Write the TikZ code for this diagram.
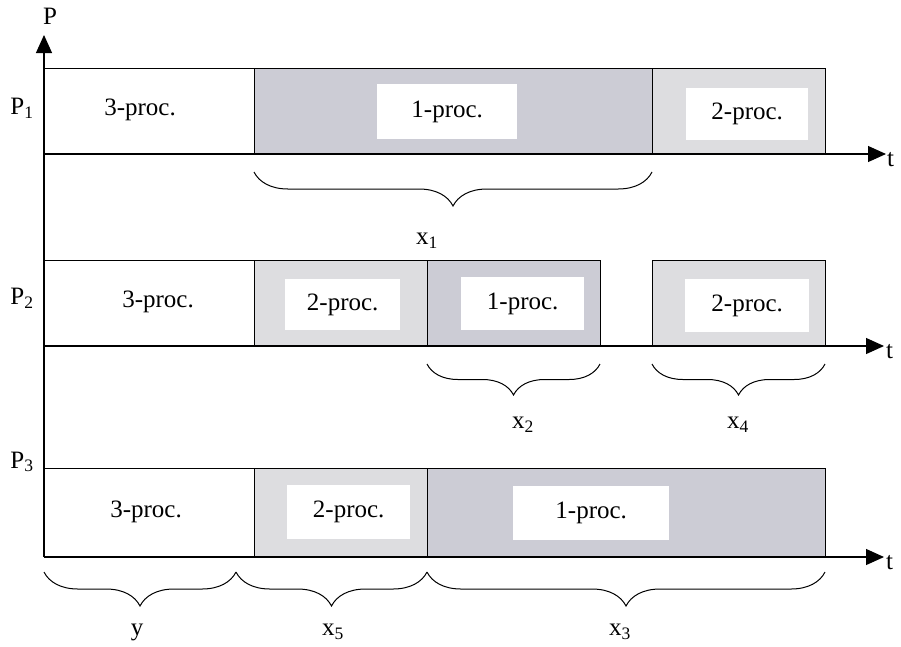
\documentclass[tikz,border=0pt]{standalone}
\usepackage{fontspec}
\setmainfont{Liberation Serif}
\usetikzlibrary{arrows.meta,decorations.pathreplacing}
\definecolor{darkfill}{RGB}{204,204,213}
\definecolor{lightfill}{RGB}{221,221,224}
\begin{document}
\begin{tikzpicture}[x=1pt,y=-1pt,
  font=\fontsize{25}{28}\selectfont,
  seg/.style={draw, line width=1.1pt, anchor=north west, inner sep=0pt, minimum height=#1},
  tip/.style={-{Triangle[length=18pt,width=16pt]}, line width=1.1pt},
  inner/.style={fill=white, inner sep=0pt, anchor=north west},
  br/.style={decorate, decoration={brace, mirror, amplitude=#1}, line width=1pt},
  lab/.style={inner sep=1pt}]
\useasboundingbox (0,0) rectangle (901,646);

% vertical axis
\coordinate (vbot) at (44,557);
\coordinate (vtop) at (44,35);
\draw[tip] (vbot) -- (vtop);
\node[lab] (Plab) at (50,16) {P};

% ---------- Row 1 ----------
\node[seg=86pt, fill=white, minimum width=210pt] (r1a) at (44,68) {};
\node[seg=86pt, fill=darkfill, minimum width=398pt] (r1b) at (254,68) {};
\node[seg=86pt, fill=lightfill, minimum width=173pt] (r1c) at (652,68) {};
\node (t1a) at (140,110) {3-proc.};
\node[inner, minimum width=140pt, minimum height=55pt] (w1b) at (377,84) {};
\node (t1b) at (w1b.center) {1-proc.};
\node[inner, minimum width=122pt, minimum height=52pt] (w1c) at (686,88) {};
\node (t1c) at (w1c.center) {2-proc.};
\coordinate (a1s) at (44,154);
\coordinate (a1e) at (886,154);
\draw[tip] (a1s) -- (a1e);
\node[lab, anchor=west] (t1) at (886,160) {t};
\node[lab] (P1) at (22,108) {P\textsubscript{1}};
\coordinate (b1s) at (254,172);
\coordinate (b1e) at (652,172);
\draw[br=34pt] (b1s) -- (b1e);
\node[lab] (x1) at (427,241) {x\textsubscript{1}};

% ---------- Row 2 ----------
\node[seg=86pt, fill=white, minimum width=210pt] (r2a) at (44,260) {};
\node[seg=86pt, fill=lightfill, minimum width=173pt] (r2b) at (254,260) {};
\node[seg=86pt, fill=darkfill, minimum width=173pt] (r2c) at (427,260) {};
\node[seg=86pt, fill=lightfill, minimum width=173pt] (r2d) at (652,260) {};
\node (t2a) at (158,302) {3-proc.};
\node[inner, minimum width=115pt, minimum height=51pt] (w2b) at (285,279) {};
\node (t2b) at (w2b.center) {2-proc.};
\node[inner, minimum width=123pt, minimum height=53pt] (w2c) at (461,277) {};
\node (t2c) at (w2c.center) {1-proc.};
\node[inner, minimum width=124pt, minimum height=53pt] (w2d) at (685,279) {};
\node (t2d) at (w2d.center) {2-proc.};
\coordinate (a2s) at (44,346);
\coordinate (a2e) at (884,346);
\draw[tip] (a2s) -- (a2e);
\node[lab, anchor=west] (t2) at (885,352) {t};
\node[lab] (P2) at (22,298) {P\textsubscript{2}};
\coordinate (b2s) at (427,364);
\coordinate (b2e) at (600,364);
\draw[br=31pt] (b2s) -- (b2e);
\node[lab] (x2) at (523,425) {x\textsubscript{2}};
\coordinate (b4s) at (652,364);
\coordinate (b4e) at (825,364);
\draw[br=31pt] (b4s) -- (b4e);
\node[lab] (x4) at (738,425) {x\textsubscript{4}};

% ---------- Row 3 ----------
\node[seg=89pt, fill=white, minimum width=210pt] (r3a) at (44,468) {};
\node[seg=89pt, fill=lightfill, minimum width=173pt] (r3b) at (254,468) {};
\node[seg=89pt, fill=darkfill, minimum width=398pt] (r3c) at (427,468) {};
\node (t3a) at (146,512) {3-proc.};
\node[inner, minimum width=123pt, minimum height=54pt] (w3b) at (287,485) {};
\node (t3b) at (w3b.center) {2-proc.};
\node[inner, minimum width=156pt, minimum height=54pt] (w3c) at (513,486) {};
\node (t3c) at (w3c.center) {1-proc.};
\coordinate (a3s) at (44,557);
\coordinate (a3e) at (884,557);
\draw[tip] (a3s) -- (a3e);
\node[lab, anchor=west] (t3) at (885,563) {t};
\node[lab] (P3) at (22,462) {P\textsubscript{3}};
\coordinate (b5s) at (44,572);
\coordinate (b5e) at (236,572);
\draw[br=34pt] (b5s) -- (b5e);
\node[lab] (ylab) at (137,632) {y};
\coordinate (b6s) at (236,572);
\coordinate (b6e) at (427,572);
\draw[br=34pt] (b6s) -- (b6e);
\node[lab] (x5) at (333,632) {x\textsubscript{5}};
\coordinate (b7s) at (427,572);
\coordinate (b7e) at (825,572);
\draw[br=34pt] (b7s) -- (b7e);
\node[lab] (x3) at (620,632) {x\textsubscript{3}};
\end{tikzpicture}
\end{document}
